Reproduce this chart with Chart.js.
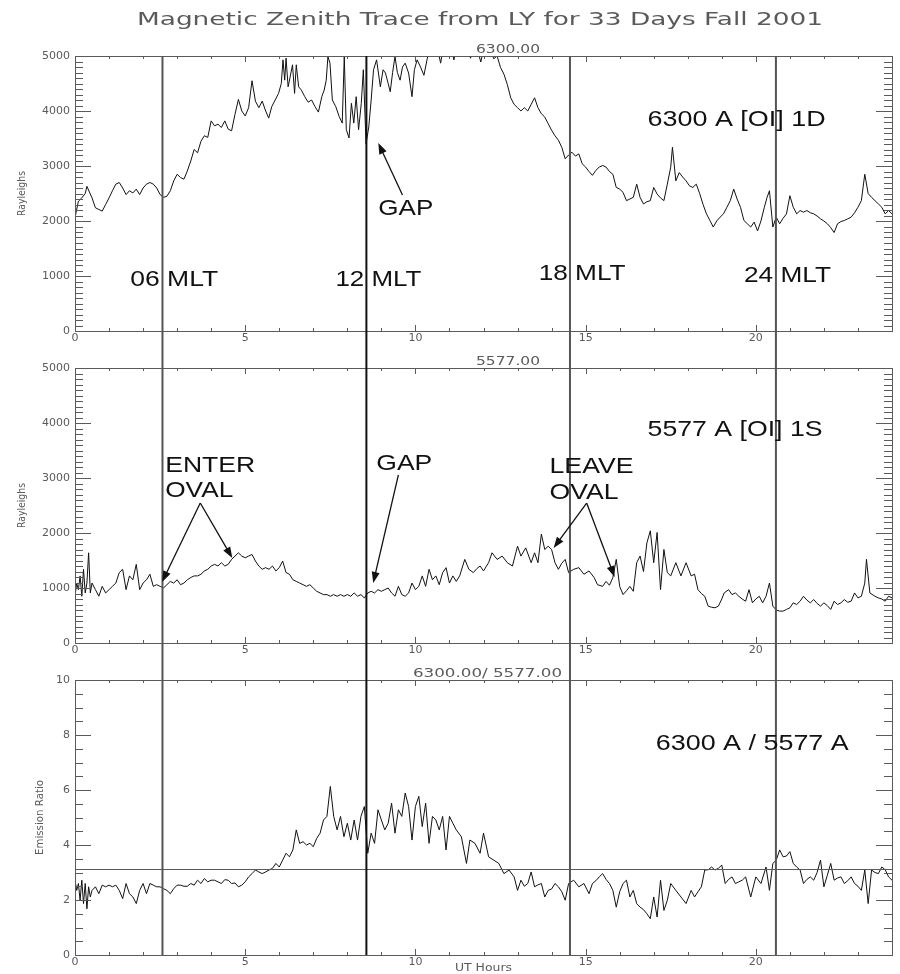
<!DOCTYPE html>
<html>
<head>
<meta charset="utf-8">
<title>Magnetic Zenith Trace from LY for 33 Days Fall 2001</title>
<script src="https://cdn.jsdelivr.net/npm/chart.js@4.4.1/dist/chart.umd.min.js"></script>
<style>
  html, body { margin: 0; padding: 0; background: #fff; }
  #wrap { position: relative; width: 900px; height: 974px; }
  #wrap canvas { position: absolute; left: 0; top: 0; }
</style>
</head>
<body>
<div id="wrap">
  <canvas id="chart6300" width="900" height="974"></canvas>
  <canvas id="chart5577" width="900" height="974"></canvas>
  <canvas id="chartRatio" width="900" height="974"></canvas>
</div>
<script>
// --- Data (UT hours / value) ---
const hours6300 = [0, 0.1, 0.2, 0.3, 0.35, 0.5, 0.6, 0.7, 0.8, 0.9, 1.0, 1.1, 1.2, 1.3, 1.4, 1.5, 1.6, 1.7, 1.8, 1.9,
  2.0, 2.1, 2.2, 2.3, 2.4, 2.5, 2.6, 2.7, 2.8, 2.9, 3.0, 3.1, 3.2, 3.3, 3.4, 3.5, 3.6, 3.7, 3.8, 3.9,
  4.0, 4.1, 4.2, 4.3, 4.4, 4.5, 4.6, 4.7, 4.8, 4.9, 5.0, 5.1, 5.2, 5.3, 5.4, 5.5, 5.59, 5.69, 5.78, 5.88,
  5.98, 6.06, 6.11, 6.16, 6.2, 6.26, 6.32, 6.39, 6.45, 6.5, 6.57, 6.65, 6.75, 6.85, 6.95, 7.05, 7.15, 7.25, 7.32, 7.38,
  7.43, 7.49, 7.56, 7.66, 7.76, 7.85, 7.91, 7.97, 8.05, 8.12, 8.19, 8.26, 8.33, 8.41, 8.47, 8.55, 8.63, 8.7, 8.77, 8.86,
  8.97, 9.05, 9.12, 9.2, 9.26, 9.33, 9.4, 9.47, 9.55, 9.62, 9.7, 9.8, 9.9, 9.97, 10.05, 10.15, 10.25, 10.35, 10.45, 10.6,
  10.74, 10.85, 11.0, 11.13, 11.25, 11.45, 11.62, 11.75, 11.92, 12.05, 12.2, 12.3, 12.4, 12.5, 12.6, 12.7, 12.8, 12.9, 13.0, 13.1,
  13.2, 13.3, 13.4, 13.5, 13.6, 13.7, 13.8, 13.9, 14.0, 14.1, 14.2, 14.3, 14.4, 14.5, 14.6, 14.7, 14.8, 14.9, 15.0, 15.1,
  15.2, 15.3, 15.4, 15.5, 15.6, 15.7, 15.8, 15.9, 16.0, 16.1, 16.2, 16.3, 16.4, 16.5, 16.6, 16.7, 16.8, 16.9, 17.0, 17.1,
  17.2, 17.3, 17.4, 17.5, 17.55, 17.65, 17.75, 17.85, 17.95, 18.05, 18.15, 18.25, 18.35, 18.45, 18.55, 18.65, 18.75, 18.85, 18.95, 19.05,
  19.15, 19.25, 19.35, 19.45, 19.55, 19.65, 19.75, 19.85, 19.95, 20.05, 20.15, 20.25, 20.33, 20.4, 20.5, 20.6, 20.7, 20.8, 20.9, 21.0,
  21.1, 21.2, 21.3, 21.4, 21.5, 21.6, 21.7, 21.8, 21.9, 22.0, 22.1, 22.2, 22.3, 22.4, 22.5, 22.6, 22.7, 22.8, 22.9, 23.0,
  23.1, 23.2, 23.3, 23.4, 23.5, 23.6, 23.7, 23.8, 23.9, 24.0];
const rayleighs6300 = [2060, 2360, 2420, 2500, 2630, 2420, 2240, 2210, 2180, 2300, 2420, 2550, 2670, 2700, 2600, 2480, 2550, 2510, 2580, 2480,
  2600, 2670, 2700, 2670, 2600, 2480, 2430, 2450, 2550, 2730, 2850, 2790, 2760, 2910, 3090, 3300, 3240, 3450, 3550, 3520,
  3820, 3730, 3760, 3700, 3820, 3670, 3640, 3940, 4210, 4000, 3910, 4060, 4550, 4180, 4060, 4180, 4018, 3870, 4080, 4200,
  4320, 4500, 4930, 4560, 4960, 4440, 4620, 4840, 4320, 4840, 4440, 4380, 4260, 4160, 4200, 4080, 3980, 4260, 4380, 4560,
  4990, 4870, 4200, 4080, 3900, 3780, 4990, 3660, 3510, 4140, 3780, 4260, 3660, 4140, 4750, 3400, 3710, 4200, 4750, 4930,
  4440, 4750, 4690, 4500, 4350, 4700, 4990, 4700, 4560, 4800, 4870, 4690, 4260, 4750, 4930, 4800, 4650, 4960, 5200, 5300,
  4870, 5250, 5350, 4930, 5300, 5400, 4960, 5300, 4890, 5250, 5150, 4950, 5000, 4790, 4670, 4480, 4240, 4120, 4060, 4000,
  4060, 4000, 4120, 4240, 4060, 3950, 3890, 3770, 3650, 3550, 3470, 3340, 3130, 3200, 3250, 3180, 3220, 3040, 2980, 2900,
  2830, 2920, 2980, 3010, 2980, 2900, 2850, 2610, 2580, 2520, 2370, 2400, 2430, 2670, 2430, 2310, 2350, 2370, 2610, 2490,
  2420, 2370, 2670, 2980, 3340, 2730, 2880, 2800, 2730, 2640, 2610, 2670, 2500, 2300, 2130, 2010, 1890, 2000, 2070, 2130,
  2250, 2370, 2580, 2400, 2250, 2010, 1950, 1890, 1980, 1820, 2000, 2250, 2430, 2550, 1890, 2070, 1950, 2050, 2130, 2460,
  2250, 2130, 2190, 2160, 2190, 2150, 2130, 2090, 2040, 2000, 1950, 1880, 1790, 1950, 1990, 2010, 2040, 2070, 2150, 2250,
  2370, 2850, 2500, 2430, 2370, 2310, 2250, 2130, 2190, 2130];

const hours5577 = [0, 0.05, 0.1, 0.15, 0.2, 0.25, 0.3, 0.35, 0.4, 0.45, 0.5, 0.6, 0.7, 0.8, 0.9, 1.0, 1.1, 1.2, 1.3, 1.4,
  1.5, 1.6, 1.7, 1.8, 1.9, 2.0, 2.1, 2.2, 2.3, 2.4, 2.5, 2.6, 2.7, 2.8, 2.9, 3.0, 3.1, 3.2, 3.3, 3.4,
  3.5, 3.6, 3.7, 3.8, 3.9, 4.0, 4.1, 4.2, 4.3, 4.4, 4.5, 4.6, 4.7, 4.8, 4.9, 5.0, 5.1, 5.2, 5.3, 5.4,
  5.5, 5.6, 5.7, 5.8, 5.9, 6.0, 6.1, 6.2, 6.3, 6.4, 6.5, 6.6, 6.7, 6.8, 6.9, 7.0, 7.1, 7.2, 7.3, 7.4,
  7.5, 7.6, 7.7, 7.8, 7.9, 8.0, 8.1, 8.2, 8.3, 8.4, 8.5, 8.6, 8.7, 8.8, 8.9, 9.0, 9.1, 9.2, 9.3, 9.4,
  9.5, 9.6, 9.7, 9.8, 9.9, 10.0, 10.1, 10.2, 10.3, 10.4, 10.5, 10.6, 10.7, 10.8, 10.9, 11.0, 11.1, 11.2, 11.3, 11.45,
  11.57, 11.7, 11.8, 11.9, 12.0, 12.15, 12.25, 12.4, 12.55, 12.7, 12.85, 13.0, 13.1, 13.24, 13.4, 13.5, 13.6, 13.7, 13.8, 13.9,
  14.0, 14.1, 14.2, 14.3, 14.4, 14.5, 14.65, 14.8, 14.95, 15.1, 15.25, 15.35, 15.5, 15.6, 15.7, 15.8, 15.9, 16.0, 16.1, 16.2,
  16.3, 16.4, 16.5, 16.6, 16.7, 16.8, 16.9, 17.0, 17.1, 17.2, 17.3, 17.4, 17.5, 17.65, 17.8, 17.95, 18.1, 18.2, 18.3, 18.4,
  18.5, 18.6, 18.7, 18.8, 18.9, 19.0, 19.07, 19.2, 19.3, 19.4, 19.5, 19.6, 19.7, 19.8, 19.9, 20.0, 20.1, 20.2, 20.3, 20.4,
  20.5, 20.6, 20.7, 20.8, 20.9, 21.0, 21.1, 21.2, 21.3, 21.4, 21.5, 21.6, 21.7, 21.8, 21.9, 22.0, 22.1, 22.2, 22.3, 22.4,
  22.5, 22.6, 22.7, 22.8, 22.9, 23.0, 23.1, 23.2, 23.25, 23.35, 23.5, 23.6, 23.7, 23.8, 23.9, 24.0];
const rayleighs5577 = [850, 1090, 970, 1220, 850, 1340, 910, 1090, 1640, 910, 1090, 970, 850, 1030, 910, 970, 1030, 1090, 1280, 1340,
  970, 1220, 1150, 1430, 970, 1090, 1150, 1250, 1030, 1060, 1030, 1000, 1060, 1120, 1090, 1150, 1060, 1090, 1150, 1190,
  1220, 1220, 1250, 1310, 1340, 1400, 1430, 1400, 1460, 1400, 1430, 1520, 1580, 1640, 1580, 1550, 1580, 1610, 1490, 1400,
  1340, 1370, 1340, 1400, 1310, 1370, 1490, 1280, 1250, 1150, 1120, 1090, 1060, 1030, 1060, 1000, 940, 910, 880, 880,
  850, 880, 850, 880, 850, 880, 850, 910, 850, 880, 820, 910, 940, 910, 970, 940, 970, 1000, 910, 850,
  1030, 880, 850, 910, 1090, 970, 1030, 1220, 1030, 1340, 1150, 1220, 1060, 1280, 1370, 1090, 1220, 1120, 1220, 1520,
  1340, 1280, 1350, 1400, 1310, 1460, 1640, 1520, 1580, 1460, 1400, 1760, 1580, 1730, 1460, 1640, 1460, 1980, 1700, 1760,
  1700, 1460, 1340, 1450, 1520, 1280, 1340, 1370, 1250, 1310, 1190, 1060, 1030, 1120, 1050, 1190, 1520, 1030, 880, 950,
  1030, 940, 1460, 1580, 1300, 1820, 2040, 1460, 2010, 970, 1700, 1280, 1220, 1460, 1220, 1460, 1220, 1250, 970, 900,
  850, 670, 650, 640, 670, 800, 910, 970, 880, 910, 850, 800, 760, 970, 730, 800, 850, 730, 850, 1090,
  670, 600, 580, 580, 610, 640, 730, 700, 760, 850, 780, 730, 790, 720, 670, 730, 680, 610, 760, 700,
  730, 790, 740, 760, 910, 820, 850, 1090, 1520, 910, 850, 820, 800, 760, 850, 820];

const hoursRatio = [0, 0.05, 0.1, 0.15, 0.2, 0.25, 0.3, 0.35, 0.4, 0.45, 0.5, 0.6, 0.7, 0.8, 0.9, 1.0, 1.1, 1.2, 1.3, 1.4,
  1.5, 1.6, 1.7, 1.8, 1.9, 2.0, 2.1, 2.2, 2.3, 2.4, 2.5, 2.6, 2.7, 2.8, 2.9, 3.0, 3.1, 3.2, 3.3, 3.4,
  3.5, 3.6, 3.7, 3.8, 3.9, 4.0, 4.1, 4.2, 4.3, 4.4, 4.5, 4.6, 4.7, 4.8, 4.9, 5.0, 5.1, 5.2, 5.3, 5.4,
  5.5, 5.6, 5.7, 5.8, 5.9, 6.0, 6.1, 6.2, 6.3, 6.4, 6.5, 6.6, 6.7, 6.8, 6.9, 7.0, 7.1, 7.2, 7.3, 7.4,
  7.5, 7.6, 7.7, 7.8, 7.9, 8.0, 8.1, 8.2, 8.3, 8.4, 8.5, 8.6, 8.7, 8.8, 8.9, 9.0, 9.1, 9.2, 9.3, 9.4,
  9.5, 9.6, 9.7, 9.8, 9.9, 10.0, 10.1, 10.2, 10.3, 10.4, 10.5, 10.6, 10.7, 10.8, 10.9, 11.0, 11.1, 11.2, 11.35, 11.5,
  11.6, 11.75, 11.9, 12.0, 12.15, 12.3, 12.45, 12.6, 12.75, 12.9, 13.0, 13.1, 13.2, 13.3, 13.4, 13.5, 13.6, 13.7, 13.8, 13.9,
  14.0, 14.1, 14.2, 14.3, 14.4, 14.5, 14.65, 14.8, 14.95, 15.1, 15.2, 15.3, 15.4, 15.5, 15.6, 15.7, 15.8, 15.9, 16.0, 16.1,
  16.2, 16.3, 16.4, 16.5, 16.6, 16.7, 16.8, 16.9, 17.0, 17.1, 17.2, 17.3, 17.4, 17.5, 17.65, 17.8, 17.95, 18.1, 18.2, 18.3,
  18.4, 18.5, 18.6, 18.7, 18.8, 18.9, 19.0, 19.1, 19.2, 19.3, 19.4, 19.5, 19.6, 19.7, 19.85, 20.0, 20.15, 20.3, 20.4, 20.5,
  20.6, 20.7, 20.8, 20.9, 21.0, 21.1, 21.2, 21.3, 21.4, 21.5, 21.6, 21.7, 21.8, 21.9, 22.0, 22.1, 22.2, 22.3, 22.4, 22.5,
  22.6, 22.7, 22.8, 22.9, 23.0, 23.1, 23.2, 23.3, 23.4, 23.5, 23.6, 23.7, 23.8, 23.9, 24.0];
const ratio = [2.72, 2.35, 2.6, 1.99, 2.72, 1.87, 2.6, 1.68, 2.48, 2.11, 2.35, 2.48, 2.23, 2.54, 2.48, 2.54, 2.48, 2.54, 2.35, 2.05,
  2.6, 2.23, 2.11, 1.87, 2.35, 2.6, 2.23, 2.6, 2.54, 2.48, 2.48, 2.41, 2.35, 2.23, 2.41, 2.54, 2.54, 2.5, 2.5, 2.6,
  2.54, 2.72, 2.6, 2.78, 2.66, 2.72, 2.72, 2.66, 2.6, 2.74, 2.72, 2.6, 2.62, 2.48, 2.54, 2.66, 2.84, 2.96, 3.09, 3.02,
  2.96, 3.02, 3.09, 3.15, 3.33, 3.2, 3.45, 3.7, 3.57, 3.82, 4.55, 4.06, 4.12, 4.0, 4.06, 3.94, 4.24, 4.43, 4.91, 5.04,
  6.13, 5.04, 4.55, 5.04, 4.3, 4.79, 4.18, 4.91, 4.18, 5.04, 5.4, 3.7, 4.43, 4.06, 5.28, 4.91, 4.55, 4.79, 5.52, 4.43,
  5.28, 5.04, 5.89, 5.4, 4.18, 5.4, 5.77, 4.67, 5.52, 4.06, 5.04, 4.91, 4.55, 5.04, 3.82, 5.04, 4.79, 4.55, 4.3, 3.33,
  4.18, 4.06, 3.7, 4.43, 3.57, 3.45, 3.33, 2.96, 3.09, 2.84, 2.35, 2.72, 2.5, 2.6, 3.02, 2.48, 2.55, 2.6, 2.11, 2.35,
  2.4, 2.6, 2.48, 2.3, 1.99, 2.6, 2.72, 2.48, 2.6, 2.23, 2.6, 2.7, 2.84, 2.96, 2.75, 2.6, 2.35, 1.74, 2.3, 2.6,
  2.72, 2.11, 2.35, 1.87, 1.74, 1.65, 1.5, 1.32, 2.11, 1.38, 2.72, 1.62, 1.99, 2.6, 2.35, 2.11, 1.87, 2.35, 2.11, 2.3,
  2.48, 3.09, 3.1, 3.2, 3.09, 3.15, 3.27, 2.6, 2.75, 2.84, 2.6, 2.66, 2.72, 2.84, 2.11, 2.84, 2.6, 3.2, 2.35, 3.33,
  3.45, 3.82, 3.57, 3.6, 3.76, 3.33, 3.2, 3.09, 2.6, 2.75, 2.84, 2.72, 3.0, 3.45, 2.48, 2.9, 3.33, 2.72, 2.8, 2.84,
  2.6, 2.7, 2.84, 2.6, 2.5, 2.35, 3.09, 1.87, 3.09, 3.0, 2.96, 3.2, 3.1, 2.84, 2.72];

// --- Axes, markers ---
const xTicks = [0, 5, 10, 15, 20];
const rayleighTicks = [0, 1000, 2000, 3000, 4000, 5000];
const ratioTicks = [0, 2, 4, 6, 8, 10];
const mltHours = [2.57, 8.56, 14.54, 20.59];
const mltLabels = ['06 MLT', '12 MLT', '18 MLT', '24 MLT'];
const ratioReference = 3.13;

// --- Layout / style ---
const PAGE_W = 900, PAGE_H = 974;
const PLOT_LEFT = 75, PLOT_RIGHT = 892, PLOT_H = 275, GAP = 37;
const Y_AXIS_W = 60, X_AXIS_H = 20;
const panelTops = [56, 368, 680];
const GREY = '#5a5a5a';
const LABEL_FONT = '22px "Liberation Sans", Arial, sans-serif';
const SMALL_FONT = '"DejaVu Sans", sans-serif';

// draws text squeezed/stretched to a given width
function fitText(ctx, text, x, y, font, width, align) {
    ctx.font = font;
    const sx = width / ctx.measureText(text).width;
    ctx.save();
    ctx.translate(x, y);
    ctx.scale(sx, 1);
    ctx.textAlign = align || 'left';
    ctx.fillText(text, 0, 0);
    ctx.restore();
}

function arrow(ctx, x1, y1, x2, y2) {
    const ang = Math.atan2(y2 - y1, x2 - x1), len = 11, half = 4;
    const c = Math.cos(ang), s = Math.sin(ang);
    ctx.beginPath();
    ctx.moveTo(x1, y1);
    ctx.lineTo(x2 - c * len * 0.8, y2 - s * len * 0.8);
    ctx.stroke();
    ctx.beginPath();
    ctx.moveTo(x2, y2);
    ctx.lineTo(x2 - len * c + half * s, y2 - len * s - half * c);
    ctx.lineTo(x2 - len * c - half * s, y2 - len * s + half * c);
    ctx.closePath();
    ctx.fill();
}

const panels = [
    {
        id: 'chart6300', hours: hours6300, values: rayleighs6300, yMax: 5000, yTicks: rayleighTicks, yMinor: 100, yMajor: 1000,
        title: '6300.00', titleX: 476, titleW: 64, yTitle: 'Rayleighs', yTitleX: 22, yTitleW: 45,
        texts: [
            { t: mltLabels[0], h: 1.62, v: 818, w: 88 },
            { t: mltLabels[1], h: 7.65, v: 818, w: 86 },
            { t: mltLabels[2], h: 13.62, v: 927, w: 87 },
            { t: mltLabels[3], h: 19.65, v: 890, w: 87 },
            { t: 'GAP', h: 8.91, v: 2109, w: 55 },
            { t: '6300 A [OI] 1D', h: 16.82, v: 3727, w: 178 }
        ],
        arrows: [{ from: [9.62, 2473], to: [8.91, 3418] }]
    },
    {
        id: 'chart5577', hours: hours5577, values: rayleighs5577, yMax: 5000, yTicks: rayleighTicks, yMinor: 100, yMajor: 1000,
        title: '5577.00', titleX: 476, titleW: 64, yTitle: 'Rayleighs', yTitleX: 22, yTitleW: 45,
        texts: [
            { t: '5577 A [OI] 1S', h: 16.82, v: 3764, w: 175 },
            { t: 'ENTER', h: 2.65, v: 3109, w: 90 },
            { t: 'OVAL', h: 2.65, v: 2655, w: 68 },
            { t: 'GAP', h: 8.85, v: 3145, w: 56 },
            { t: 'LEAVE', h: 13.94, v: 3091, w: 84 },
            { t: 'OVAL', h: 13.94, v: 2618, w: 69 }
        ],
        arrows: [
            { from: [3.68, 2545], to: [2.56, 1109] },
            { from: [3.68, 2545], to: [4.62, 1545] },
            { from: [9.5, 3055], to: [8.76, 1091] },
            { from: [15.03, 2545], to: [14.06, 1727] },
            { from: [15.03, 2545], to: [15.85, 1200] }
        ]
    },
    {
        id: 'chartRatio', hours: hoursRatio, values: ratio, yMax: 10, yTicks: ratioTicks, yMinor: 0.5, yMajor: 2,
        title: '6300.00/ 5577.00', titleX: 413, titleW: 149, yTitle: 'Emission Ratio', yTitleX: 40, yTitleW: 75,
        texts: [{ t: '6300 A / 5577 A', h: 17.06, v: 7.45, w: 193 }],
        arrows: [],
        reference: ratioReference,
        last: true
    }
];

// frame, inward ticks, MLT lines and labels
const decorPlugin = {
    id: 'decor',
    afterDatasetsDraw(chart) {
        const p = chart.options.plugins.decor.panel;
        const { ctx, chartArea: a, scales: { x, y } } = chart;
        ctx.save();
        ctx.strokeStyle = GREY;
        ctx.lineWidth = 1;
        ctx.strokeRect(a.left + 0.5, a.top + 0.5, a.right - a.left, a.bottom - a.top);

        // y ticks, both sides
        const ny = Math.round(p.yMax / p.yMinor);
        ctx.beginPath();
        for (let i = 0; i <= ny; i++) {
            const v = i * p.yMinor;
            const py = Math.round(y.getPixelForValue(v)) + 0.5;
            const len = (i % Math.round(p.yMajor / p.yMinor) === 0) ? 16 : 8;
            ctx.moveTo(a.left, py); ctx.lineTo(a.left + len, py);
            ctx.moveTo(a.right, py); ctx.lineTo(a.right - len, py);
        }
        // x ticks, top and bottom
        for (let hr = 0; hr <= 24; hr++) {
            const px = Math.round(x.getPixelForValue(hr)) + 0.5;
            const len = xTicks.includes(hr) ? 6 : 3;
            ctx.moveTo(px, a.bottom + 1); ctx.lineTo(px, a.bottom - len);
            ctx.moveTo(px, a.top); ctx.lineTo(px, a.top + len);
        }
        ctx.stroke();

        if (p.reference !== undefined) {
            const py = Math.round(y.getPixelForValue(p.reference)) + 0.5;
            ctx.beginPath();
            ctx.moveTo(a.left, py); ctx.lineTo(a.right, py);
            ctx.stroke();
        }

        // MLT lines run through the gap down to the next panel
        mltHours.forEach((hr, i) => {
            ctx.strokeStyle = i === 1 ? '#111' : '#555';
            ctx.lineWidth = 2;
            const px = x.getPixelForValue(hr);
            ctx.beginPath();
            ctx.moveTo(px, a.top);
            ctx.lineTo(px, p.last ? a.bottom : a.bottom + GAP);
            ctx.stroke();
        });

        // labels
        ctx.fillStyle = '#111';
        ctx.textBaseline = 'alphabetic';
        p.texts.forEach(t => {
            fitText(ctx, t.t, x.getPixelForValue(t.h), y.getPixelForValue(t.v), LABEL_FONT, t.w);
        });
        ctx.strokeStyle = '#111';
        ctx.lineWidth = 1.3;
        p.arrows.forEach(ar => {
            arrow(ctx, x.getPixelForValue(ar.from[0]), y.getPixelForValue(ar.from[1]),
                x.getPixelForValue(ar.to[0]), y.getPixelForValue(ar.to[1]));
        });

        // panel title and axis titles
        ctx.fillStyle = GREY;
        fitText(ctx, p.title, p.titleX, a.top - 3, '13px ' + SMALL_FONT, p.titleW);
        ctx.save();
        ctx.translate(p.yTitleX, (a.top + a.bottom) / 2);
        ctx.rotate(-Math.PI / 2);
        ctx.textBaseline = 'middle';
        fitText(ctx, p.yTitle, 0, 0, '11px ' + SMALL_FONT, p.yTitleW, 'center');
        ctx.restore();

        if (p.id === 'chart6300') {
            fitText(ctx, 'Magnetic Zenith Trace from LY for 33 Days Fall 2001', 137, 25, '18px ' + SMALL_FONT, 686);
        }
        if (p.last) {
            fitText(ctx, 'UT Hours', (a.left + a.right) / 2, a.bottom + 16, '11px ' + SMALL_FONT, 57, 'center');
        }
        ctx.restore();
    }
};

function makePanel(p, top) {
    return new Chart(document.getElementById(p.id), {
        type: 'line',
        data: {
            datasets: [{
                data: p.hours.map((h, i) => ({ x: h, y: p.values[i] })),
                borderColor: '#111',
                borderWidth: 1,
                pointRadius: 0,
                tension: 0
            }]
        },
        options: {
            responsive: false,
            animation: false,
            events: [],
            layout: {
                padding: {
                    left: PLOT_LEFT - Y_AXIS_W,
                    right: PAGE_W - PLOT_RIGHT,
                    top: top,
                    bottom: PAGE_H - top - PLOT_H - X_AXIS_H
                }
            },
            plugins: {
                legend: { display: false },
                tooltip: { enabled: false },
                decor: { panel: p }
            },
            scales: {
                x: {
                    type: 'linear', min: 0, max: 24,
                    grid: { display: false, drawTicks: false }, border: { display: false },
                    afterBuildTicks: s => { s.ticks = xTicks.map(v => ({ value: v })); },
                    ticks: {
                        color: GREY, font: { family: 'DejaVu Sans', size: 11 }, padding: 1,
                        maxRotation: 0, autoSkip: false, callback: v => String(v)
                    },
                    afterFit: s => { s.height = X_AXIS_H; }
                },
                y: {
                    type: 'linear', min: 0, max: p.yMax,
                    grid: { display: false, drawTicks: false }, border: { display: false },
                    afterBuildTicks: s => { s.ticks = p.yTicks.map(v => ({ value: v })); },
                    ticks: {
                        color: GREY, font: { family: 'DejaVu Sans', size: 11 }, padding: 5,
                        autoSkip: false, callback: v => String(v)
                    },
                    afterFit: s => { s.width = Y_AXIS_W; }
                }
            }
        },
        plugins: [decorPlugin]
    });
}

panels.forEach((p, i) => makePanel(p, panelTops[i]));
</script>
</body>
</html>
